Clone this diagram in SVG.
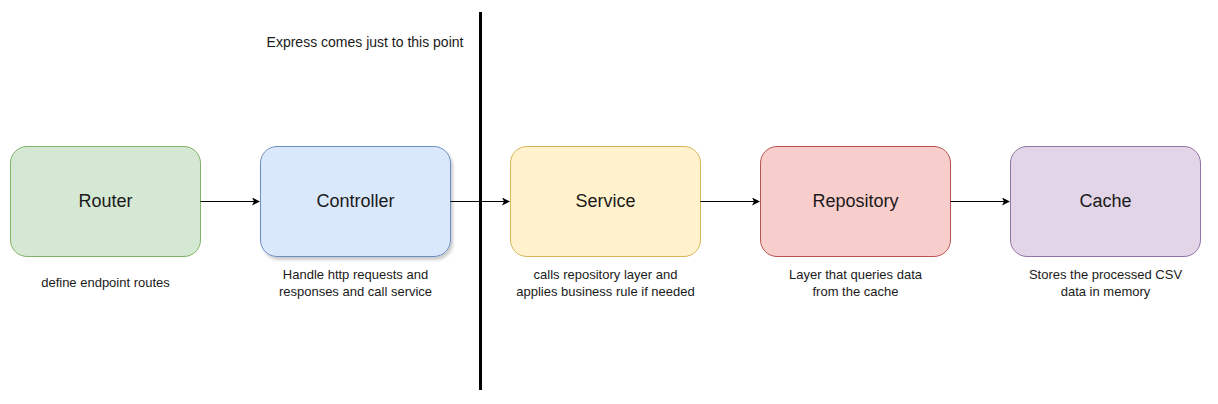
<svg xmlns="http://www.w3.org/2000/svg" width="1218" height="404" viewBox="0 0 1218 404">
<style>
.box{stroke-width:1}
.lbl{font-family:"Liberation Sans",Arial,sans-serif;font-size:18px;fill:#1a1a1a;text-anchor:middle}
.cap{font-family:"Liberation Sans",Arial,sans-serif;font-size:13px;fill:#1a1a1a;text-anchor:middle}
.edge{stroke:#000;stroke-width:1;fill:none;marker-end:url(#arr)}
</style>
<defs>
<marker id="arr" markerWidth="10" markerHeight="10" refX="7" refY="4" orient="auto" markerUnits="userSpaceOnUse">
<path d="M0,0 L8,4 L0,8 L2,4 Z" fill="#000"/>
</marker>
<filter id="sh" x="-10%" y="-10%" width="130%" height="130%">
<feGaussianBlur in="SourceAlpha" stdDeviation="1.5"/>
<feOffset dx="2" dy="3"/>
<feComponentTransfer><feFuncA type="linear" slope="0.2"/></feComponentTransfer>
<feMerge><feMergeNode/><feMergeNode in="SourceGraphic"/></feMerge>
</filter>
</defs>
<rect width="1218" height="404" fill="#fff"/>
<g id="divider">
<line x1="480.5" y1="12" x2="480.5" y2="390" stroke="#000" stroke-width="3"/>
<text class="cap" x="365" y="47" style="font-size:14px">Express comes just to this point</text>
</g>
<g id="router">
<rect class="box" x="10.5" y="146.5" width="190" height="110" rx="16.5" fill="#d5e8d4" stroke="#82b366"/>
<text class="lbl" x="105.5" y="207">Router</text>
<text class="cap" x="105.5" y="287">define endpoint routes</text>
</g>
<g id="controller">
<rect class="box" x="260.5" y="146.5" width="190" height="110" rx="16.5" fill="#dae8fc" stroke="#6c8ebf" filter="url(#sh)"/>
<text class="lbl" x="355.5" y="207">Controller</text>
<text class="cap" x="355.5" y="279">Handle http requests and</text>
<text class="cap" x="355.5" y="296">responses and call service</text>
</g>
<g id="service">
<rect class="box" x="510.5" y="146.5" width="190" height="110" rx="16.5" fill="#fff2cc" stroke="#d6b656"/>
<text class="lbl" x="605.5" y="207">Service</text>
<text class="cap" x="605.5" y="279">calls repository layer and</text>
<text class="cap" x="605.5" y="296">applies business rule if needed</text>
</g>
<g id="repository">
<rect class="box" x="760.5" y="146.5" width="190" height="110" rx="16.5" fill="#f8cecc" stroke="#b85450"/>
<text class="lbl" x="855.5" y="207">Repository</text>
<text class="cap" x="855.5" y="279">Layer that queries data</text>
<text class="cap" x="855.5" y="296">from the cache</text>
</g>
<g id="cache">
<rect class="box" x="1010.5" y="146.5" width="190" height="110" rx="16.5" fill="#e1d5e7" stroke="#9673a6"/>
<text class="lbl" x="1105.5" y="207">Cache</text>
<text class="cap" x="1105.5" y="279">Stores the processed CSV</text>
<text class="cap" x="1105.5" y="296">data in memory</text>
</g>
<g id="connectors">
<path class="edge" d="M200.5,201.5 L259,201.5"/>
<path class="edge" d="M450.5,201.5 L509,201.5"/>
<path class="edge" d="M700.5,201.5 L759,201.5"/>
<path class="edge" d="M950.5,201.5 L1009,201.5"/>
</g>
</svg>
